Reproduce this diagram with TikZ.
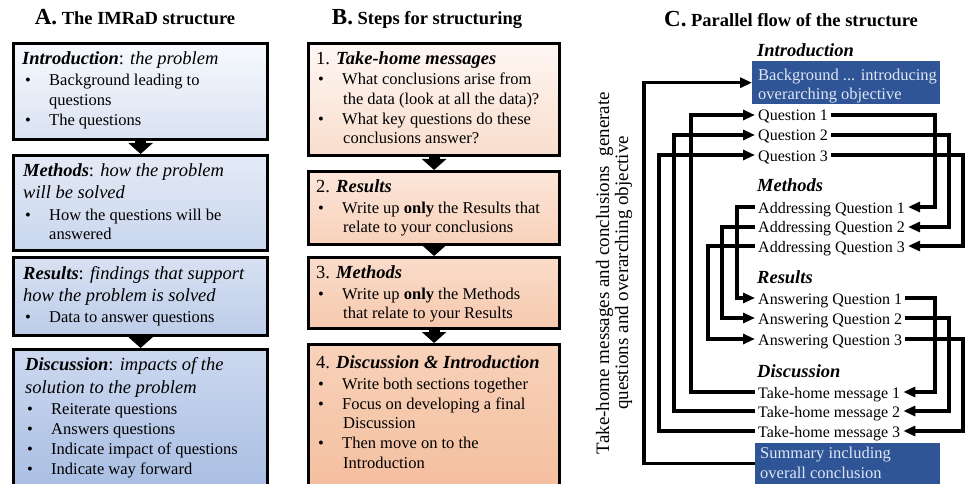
\documentclass[tikz,border=0pt]{standalone}
\usepackage{fontspec}
\setmainfont{Liberation Serif}
\usetikzlibrary{arrows.meta}
\definecolor{cblue}{RGB}{47,85,151}
\definecolor{cbluetext}{RGB}{222,230,244}
\newcommand{\bl}{\makebox[24pt][l]{\textbullet}}
\tikzset{
  boxA/.style={draw=black, line width=3.2pt, anchor=north west, minimum width=254, inner sep=0pt},
  boxB/.style={draw=black, line width=3.2pt, anchor=north west, minimum width=251, inner sep=0pt},
  blockarrow/.style={line width=11pt, -{Triangle[length=11pt,width=24pt]}},
  txt/.style={inner sep=0pt, anchor=base west, font=\fontsize{16.5}{20}\selectfont},
  head/.style={inner sep=0pt, anchor=base west, font=\fontsize{18.5}{22}\selectfont},
  ttl/.style={inner sep=0pt, anchor=base, font=\fontsize{18.5}{22}\selectfont\bfseries},
  item/.style={inner xsep=3pt, inner ysep=0pt, anchor=west, text height=12pt, text depth=0pt, font=\fontsize{16}{20}\selectfont},
  lab/.style={inner sep=0pt, anchor=base west, font=\fontsize{18.5}{22}\selectfont\bfseries\itshape},
  bluebox/.style={fill=cblue, anchor=north west, inner sep=0pt},
  bluetxt/.style={inner sep=0pt, anchor=base west, text=cbluetext, font=\fontsize{16.5}{20}\selectfont},
  conn/.style={line width=3.2pt, -{Triangle[length=12pt,width=10pt]}},
}
\begin{document}
\begin{tikzpicture}[x=1pt,y=-1pt]
\useasboundingbox (0,0) rectangle (967,484);
\fill[white] (0,0) rectangle (967,484);
\clip (0,0) rectangle (967,484);

% ---------- Panel A ----------
\node[ttl] (ta) at (135,25) {{\fontsize{23}{26}\selectfont A.} The IMRaD structure};
\node[boxA, minimum height=96, top color={rgb,255:red,247;green,249;blue,253}, bottom color={rgb,255:red,217;green,226;blue,242}] (a1) at (12,42) {};
\node[boxA, minimum height=95, top color={rgb,255:red,228;green,234;blue,246}, bottom color={rgb,255:red,201;green,214;blue,238}] (a2) at (12,154) {};
\node[boxA, minimum height=78, top color={rgb,255:red,216;green,225;blue,242}, bottom color={rgb,255:red,188;green,204;blue,233}] (a3) at (12,256) {};
\node[boxA, minimum height=152, top color={rgb,255:red,204;green,216;blue,239}, bottom color={rgb,255:red,166;green,188;blue,226}] (a4) at (12,348) {};
\draw[blockarrow] (a1.south) -- (a2.north);
\draw[blockarrow] (a3.south) -- (a4.north);

\node[head] (a1h) at (22,65) {\textbf{\textit{Introduction}}: \textit{the problem}};
\node[txt] (a1a) at (25,86) {\bl Background leading to};
\node[txt] (a1b) at (49,106) {questions};
\node[txt] (a1c) at (25,126) {\bl The questions};

\node[head] (a2h) at (23,177) {\textbf{\textit{Methods}}: \textit{how the problem}};
\node[head] (a2i) at (23,199) {\textit{will be solved}};
\node[txt] (a2a) at (25,220) {\bl How the questions will be};
\node[txt] (a2b) at (49,240) {answered};

\node[head] (a3h) at (23,279) {\textbf{\textit{Results}}: \textit{findings that support}};
\node[head] (a3i) at (23,301) {\textit{how the problem is solved}};
\node[txt] (a3a) at (25,322) {\bl Data to answer questions};

\node[head] (a4h) at (25,370) {\textbf{\textit{Discussion}}: \textit{impacts of the}};
\node[head] (a4i) at (25,393) {\textit{solution to the problem}};
\node[txt] (a4a) at (27,414) {\bl Reiterate questions};
\node[txt] (a4b) at (27,434) {\bl Answers questions};
\node[txt] (a4c) at (27,454) {\bl Indicate impact of questions};
\node[txt] (a4d) at (27,474) {\bl Indicate way forward};

% ---------- Panel B ----------
\node[ttl] (tb) at (427,25) {{\fontsize{23}{26}\selectfont B.} Steps for structuring};
\node[boxB, minimum height=112, top color={rgb,255:red,254;green,247;blue,243}, bottom color={rgb,255:red,249;green,221;blue,204}] (b1) at (307,42) {};
\node[boxB, minimum height=73, top color={rgb,255:red,252;green,230;blue,217}, bottom color={rgb,255:red,248;green,209;blue,186}] (b2) at (307,170) {};
\node[boxB, minimum height=71, top color={rgb,255:red,250;green,220;blue,202}, bottom color={rgb,255:red,246;green,201;blue,174}] (b3) at (307,256) {};
\node[boxB, minimum height=157, top color={rgb,255:red,248;green,210;blue,186}, bottom color={rgb,255:red,244;green,189;blue,156}] (b4) at (307,343) {};
\draw[blockarrow] (b1.south) -- (b2.north);
\draw[blockarrow] (b2.south) -- (b3.north);
\draw[blockarrow] (b3.south) -- (b4.north);

\node[head] (b1h) at (316,65) {1. \textbf{\textit{Take-home messages}}};
\node[txt] (b1a) at (318,85) {\bl What conclusions arise from};
\node[txt] (b1b) at (343,105) {the data (look at all the data)?};
\node[txt] (b1c) at (318,125) {\bl What key questions do these};
\node[txt] (b1d) at (343,144) {conclusions answer?};

\node[head] (b2h) at (316,193) {2. \textbf{\textit{Results}}};
\node[txt] (b2a) at (318,213) {\bl Write up \textbf{only} the Results that};
\node[txt] (b2b) at (343,233) {relate to your conclusions};

\node[head] (b3h) at (316,278) {3. \textbf{\textit{Methods}}};
\node[txt] (b3a) at (318,299) {\bl Write up \textbf{only} the Methods};
\node[txt] (b3b) at (343,318) {that relate to your Results};

\node[head] (b4h) at (316,368) {4. \textbf{\textit{Discussion \& Introduction}}};
\node[txt] (b4a) at (318,389) {\bl Write both sections together};
\node[txt] (b4b) at (318,409) {\bl Focus on developing a final};
\node[txt] (b4c) at (343,428) {Discussion};
\node[txt] (b4d) at (318,448) {\bl Then move on to the};
\node[txt] (b4e) at (343,468) {Introduction};

% ---------- Panel C ----------
\node[ttl] (tc) at (791,27) {{\fontsize{23}{26}\selectfont C.} Parallel flow of the structure};
\node[rotate=90, align=center, inner sep=0pt, font=\fontsize{19}{19}\selectfont] (side) at (614,273) {Take-home messages and conclusions\ \ generate\\questions and overarching objective};

\node[lab] (lintro) at (757,57) {Introduction};
\node[bluebox, minimum width=188, minimum height=43] (bg) at (752,61) {};
\node[bluetxt] (bgt1) at (758,81) {Background ... introducing};
\node[bluetxt] (bgt2) at (758,100) {overarching objective};

\node[item] (q1) at (755,115) {Question 1};
\node[item] (q2) at (755,135) {Question 2};
\node[item] (q3) at (755,155) {Question 3};

\node[lab] (lmeth) at (757,192) {Methods};
\node[item] (aq1) at (755,207) {Addressing Question 1};
\node[item] (aq2) at (755,227) {Addressing Question 2};
\node[item] (aq3) at (755,246) {Addressing Question 3};

\node[lab] (lres) at (757,283) {Results};
\node[item] (an1) at (755,298) {Answering Question 1};
\node[item] (an2) at (755,318) {Answering Question 2};
\node[item] (an3) at (755,339) {Answering Question 3};

\node[lab] (ldisc) at (757,377) {Discussion};
\node[item] (th1) at (755,392) {Take-home message 1};
\node[item] (th2) at (755,411) {Take-home message 2};
\node[item] (th3) at (755,431) {Take-home message 3};

\node[bluebox, minimum width=185, minimum height=41] (sum) at (755,443) {};
\node[bluetxt] (sumt1) at (760,458) {Summary including};
\node[bluetxt] (sumt2) at (760,478) {overall conclusion};

\coordinate (xbg) at (644,0);
\coordinate (xq1) at (691,0);
\coordinate (xq2) at (674,0);
\coordinate (xq3) at (659,0);
\coordinate (xm1) at (737,0);
\coordinate (xm2) at (722,0);
\coordinate (xm3) at (708,0);
\coordinate (xr1) at (935,0);
\coordinate (xr2) at (949,0);
\coordinate (xr3) at (963,0);

\draw[conn] (sum.west) -- (sum.west -| xbg) |- (bg.west);
\draw[conn] (th1.west) -- (th1.west -| xq1) |- (q1.west);
\draw[conn] (th2.west) -- (th2.west -| xq2) |- (q2.west);
\draw[conn] (th3.west) -- (th3.west -| xq3) |- (q3.west);

\draw[conn] (q1.east) -- (q1.east -| xr1) |- (aq1.east);
\draw[conn] (q2.east) -- (q2.east -| xr2) |- (aq2.east);
\draw[conn] (q3.east) -- (q3.east -| xr3) |- (aq3.east);

\draw[conn] (aq1.west) -- (aq1.west -| xm1) |- (an1.west);
\draw[conn] (aq2.west) -- (aq2.west -| xm2) |- (an2.west);
\draw[conn] (aq3.west) -- (aq3.west -| xm3) |- (an3.west);

\draw[conn] (an1.east) -- (an1.east -| xr1) |- (th1.east);
\draw[conn] (an2.east) -- (an2.east -| xr2) |- (th2.east);
\draw[conn] (an3.east) -- (an3.east -| xr3) |- (th3.east);
\end{tikzpicture}
\end{document}
